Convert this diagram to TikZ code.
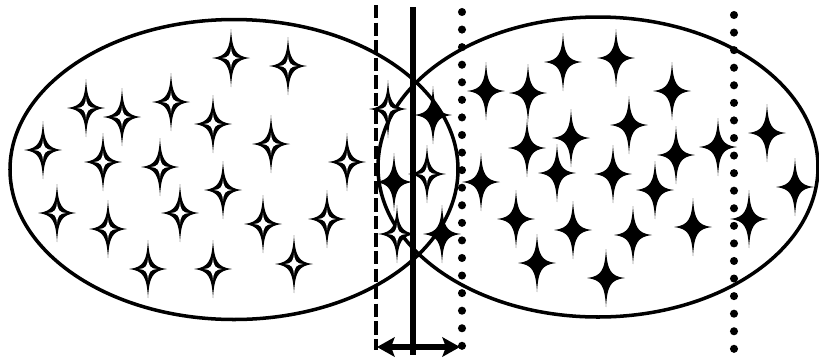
\documentclass[tikz,border=0pt]{standalone}
\usetikzlibrary{arrows.meta}

% one four-pointed star of unit arms
\newcommand{\starpath}{(0,1) .. controls (0.07,0.25) and (0.25,0.06) .. (1,0) .. controls (0.25,-0.06) and (0.07,-0.25) .. (0,-1) .. controls (-0.07,-0.25) and (-0.25,-0.06) .. (-1,0) .. controls (-0.25,0.06) and (-0.07,0.25) .. cycle}

\begin{document}
\begin{tikzpicture}[
    x=0.02cm, y=-0.02cm,
    blob/.style={line width=2pt},
    midline/.style={line width=3.4pt},
    lowline/.style={line width=2.5pt, dash pattern=on 7.6pt off 2.4pt},
    highline/.style={line width=4.6pt, line cap=round, dash pattern=on 0pt off 10pt},
    gap/.style={{Stealth[length=10pt, width=11pt, inset=2pt]}-{Stealth[length=10pt, width=11pt, inset=2pt]}, line width=3.2pt},
    fullstar/.pic={\fill[xscale=19, yscale=29] \starpath;},
    openstar/.pic={\fill[xscale=19, yscale=29] \starpath; \fill[white, xscale=9, yscale=11] \starpath;}
]
\useasboundingbox (0,0) rectangle (819,363);

% Two classes
\draw[blob] (234,169.5) ellipse [x radius=224, y radius=150];
\draw[blob] (598,167) ellipse [x radius=220, y radius=150];

% Left class: open stars
\foreach \px/\py in {231/58, 288/66, 86/108, 122/117, 171/102, 213/124, 43/150, 103/162, 160/167, 271/144, 347/162, 223/190, 57/213, 108/229, 180/213, 263/224, 327/219, 148/269, 213/269, 294/264, 388/109, 427/174, 397/234}
    \pic at (\px,\py) {openstar};

% Right class: full stars
\foreach \px/\py in {563/62, 616/58, 486/91, 528/93, 672/91, 629/125, 571/138, 527/148, 718/147, 676/155, 767/133, 557/173, 613/174, 655/190, 481/182, 795/187, 516/219, 573/230, 633/235, 693/227, 749/219, 537/263, 606/278, 433/115, 394/182, 442/234}
    \pic at (\px,\py) {fullstar};

% Boundaries
\coordinate (lowtop) at (376,5);
\coordinate (lowbot) at (376,350);
\coordinate (midtop) at (413,7);
\coordinate (midbot) at (413,355);
\coordinate (hightop) at (462,12);
\coordinate (highbot) at (462,347);
\coordinate (fartop) at (734,15);
\coordinate (farbot) at (734,353);

\draw[lowline] (lowtop) -- (lowbot);
\draw[midline] (midtop) -- (midbot);
\draw[highline] (hightop) -- (highbot);
\draw[highline] (fartop) -- (farbot);

% Margin
\coordinate (gapl) at (377,347);
\coordinate (gapr) at (460,347);
\draw[gap] (gapl) -- (gapr);

\end{tikzpicture}
\end{document}
